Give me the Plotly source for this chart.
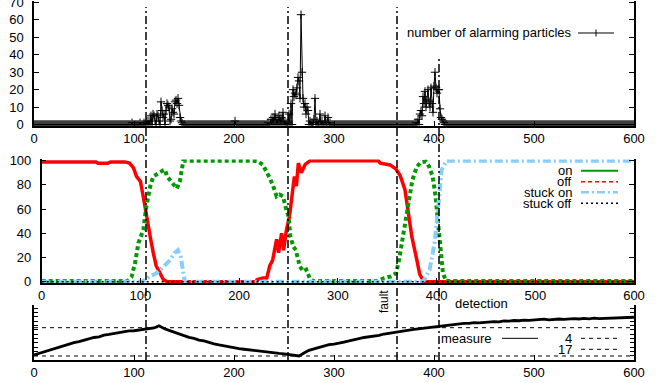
import plotly.graph_objects as go

# ---------------- data ----------------
steps = list(range(0, 601))

# top panel: number of alarming particles (steps with non-zero counts; zero elsewhere)
alarm_steps = [98, 106, 110, 113, 115, 117, 119, 120, 121, 123, 124, 125, 127, 128, 129, 130,
               132, 133, 134, 135, 136, 137, 138, 139, 140, 141, 142, 143, 144, 145, 146, 147, 148,
               201,
               234, 237, 239, 241, 243, 245, 247, 249, 251, 253, 255, 257, 259, 260, 261, 262, 263,
               264, 265, 266, 267, 268, 269, 270, 271, 272, 273, 274, 276, 278, 280, 281, 283, 285,
               286, 288, 291, 293, 294, 296,
               382, 384, 386, 387, 388, 389, 390, 391, 392, 393, 394, 395, 396, 397, 398, 399, 400,
               401, 402, 403, 404, 405, 406, 407, 408, 409, 410]
alarm_counts = [1, 1, 1, 2, 2, 5, 6, 5, 2, 6, 5, 2, 13, 8, 4, 6,
                8, 12, 11, 10, 2, 3, 9, 7, 6, 13, 14, 12, 15, 11, 4, 2, 1,
                2,
                1, 3, 4, 6, 3, 5, 4, 7, 2, 1, 6, 12, 20, 16, 18, 17, 21,
                27, 25, 15, 63, 30, 15, 10, 12, 6, 10, 8, 2, 1, 3, 15, 2, 1,
                6, 2, 5, 1, 4, 1,
                1, 3, 6, 8, 5, 16, 12, 19, 10, 14, 20, 13, 10, 21, 12, 7, 22,
                30, 21, 18, 20, 20, 9, 4, 3, 2, 1]

# middle panel: mode probabilities (%)
off_x = [0, 55, 57, 67, 70, 84, 89, 93, 96, 100, 103, 106, 110, 113, 116, 120, 123, 127,
         217, 218, 224, 228, 231, 234, 238, 240, 243, 245, 248, 251, 253, 256, 258, 260, 263,
         267, 272, 341, 343, 353, 359, 363, 368, 371, 375, 380, 383, 386, 388, 600]
off_y = [99, 99, 98, 98, 99, 99, 98, 94, 87, 83, 70, 54, 37, 24, 13, 7, 2, 0,
         0, 1.6, 3, 3, 13, 18, 35, 24, 40, 26, 43, 54, 68, 87, 79, 98, 90,
         97, 100, 100, 98, 96.5, 93, 88, 76, 57, 37, 18, 6, 1.6, 0, 0]

on_x = [0, 87, 91, 94.5, 98, 103, 106, 110, 113, 118, 123, 125, 127, 132, 137, 140, 143.5,
        214, 219, 224, 228, 231, 234.5, 238, 241, 244.5, 247, 250, 252, 255, 257.5, 260, 261.5,
        265, 268, 271.5, 275, 340, 347, 354, 359, 362, 365.5, 369, 372, 375.5, 380, 384, 389,
        392.5, 396, 399, 401.5, 404, 406.5, 409.5, 600]
on_y = [0.5, 0.5, 4, 15, 32, 43, 62, 79, 87, 90, 92, 92.5, 87, 82, 77, 83, 100,
        100, 99.4, 96.7, 91, 85.7, 79, 70.5, 72, 70.5, 62, 54, 37, 29, 26, 15, 12.6,
        8.5, 10, 3, 0.5, 0.5, 3, 4.4, 7, 18, 35, 51, 70.5, 84, 95, 98.6, 99.4,
        95, 87, 70.5, 48.5, 23.7, 7, 0.5, 0.5]

stuck_on_x = [0, 102, 109, 116, 123, 130, 135, 138, 141, 143, 145, 385, 388, 393, 398,
              401.5, 405, 410, 600]
stuck_on_y = [0, 0, 4, 7, 12, 18, 24, 26, 20, 7, 0, 0, 2, 10, 32, 60, 92, 100, 100]

stuck_off_x = [0, 600]
stuck_off_y = [0, 0]

# bottom panel: measure (every 5 steps) and the two reference levels
measure_x = list(range(0, 601, 5))
measure_y = [4.5, 5.2, 6.0, 6.7, 7.6, 8.1, 8.9, 9.5, 10.1, 10.6, 11.3, 11.7, 12.5, 12.8, 13.6,
             13.9, 14.3, 14.8, 15.0, 15.5, 15.6, 16.0, 16.1, 16.7, 16.9, 17.9, 16.6, 15.8, 15.0,
             14.0, 13.5, 12.6, 12.1, 11.3, 10.9, 10.1, 9.6, 9.1, 8.6, 8.2, 7.9, 7.4, 7.1, 6.8,
             6.6, 6.1, 6.0, 5.6, 5.5, 5.2, 5.0, 4.6, 4.4, 4.0, 5.4, 6.6, 7.3, 8.0, 8.5, 9.2,
             9.5, 10.1, 10.4, 10.9, 11.6, 12.0, 12.5, 12.8, 13.3, 13.5, 14.1, 14.5, 15.0, 15.2,
             15.6, 15.9, 16.2, 16.5, 16.9, 17.1, 17.5, 17.7, 18.1, 18.2, 18.7, 18.8, 19.0, 19.0,
             19.3, 19.2, 19.5, 19.6, 19.8, 19.7, 20.1, 20.0, 20.3, 20.2, 20.5, 20.4, 20.6, 20.7,
             20.9, 20.6, 20.9, 21.0, 20.8, 21.0, 21.2, 21.0, 21.3, 21.1, 21.4, 21.2, 21.3, 21.4,
             21.2, 21.5, 21.4, 21.7, 21.8]
level_values = [4, 17]
level_names = ["4", "17"]

# event markers (vertical dash-dot lines): step and top of line (paper fraction)
event_steps = [112, 254, 363, 405]
event_tops = [0.983, 0.983, 0.983, 0.844]

x_ticks = [0, 100, 200, 300, 400, 500, 600]

# ---------------- figure ----------------
FONT = "Liberation Sans, Arial, Helvetica, sans-serif"
RED = "#ff0000"
GREEN = "#009a00"
LBLUE = "#87cefa"

alarm = [0] * len(steps)
for s, c in zip(alarm_steps, alarm_counts):
    alarm[s] = c

fig = go.Figure()

fig.add_trace(go.Scatter(x=steps, y=alarm, mode="lines+markers", xaxis="x", yaxis="y",
                         line=dict(color="black", width=1),
                         marker=dict(symbol="cross-thin", size=6, color="black",
                                     line=dict(color="black", width=1)),
                         showlegend=False))

fig.add_trace(go.Scatter(x=off_x, y=off_y, mode="lines", xaxis="x2", yaxis="y2",
                         line=dict(color=RED, width=3.5), showlegend=False))
fig.add_trace(go.Scatter(x=on_x, y=on_y, mode="lines", xaxis="x2", yaxis="y2",
                         line=dict(color=GREEN, width=4, dash="4px,3px"), showlegend=False))
fig.add_trace(go.Scatter(x=stuck_on_x, y=stuck_on_y, mode="lines", xaxis="x2", yaxis="y2",
                         line=dict(color=LBLUE, width=4, dash="8px,3px,2px,3px"), showlegend=False))
fig.add_trace(go.Scatter(x=stuck_off_x, y=stuck_off_y, mode="lines", xaxis="x2", yaxis="y2",
                         line=dict(color="black", width=1.5, dash="2px,3px"), showlegend=False))

for v in level_values:
    fig.add_trace(go.Scatter(x=[0, 600], y=[v, v], mode="lines", xaxis="x3", yaxis="y3",
                             line=dict(color="black", width=1, dash="4px,4px"), showlegend=False))
fig.add_trace(go.Scatter(x=measure_x, y=measure_y, mode="lines", xaxis="x3", yaxis="y3",
                         line=dict(color="black", width=2.8), showlegend=False))

axis_common = dict(showline=True, linecolor="black", linewidth=1.5, ticks="inside",
                   tickcolor="black", tickwidth=1, showgrid=False, zeroline=False,
                   automargin=False, ticklabeloverflow="allow",
                   tickfont=dict(family=FONT, size=13, color="black"))

fig.update_layout(
    width=662, height=383,
    margin=dict(l=34, r=28, t=1, b=23, autoexpand=False),
    paper_bgcolor="white", plot_bgcolor="white",
    font=dict(family=FONT, size=13, color="black"),
    showlegend=False,
    xaxis=dict(domain=[0, 1], anchor="y", range=[0, 600], tickvals=x_ticks, ticklen=5,
               mirror=False, **axis_common),
    yaxis=dict(domain=[0.6518, 1], anchor="x", range=[-0.86, 70.86], dtick=10, ticklen=5,
               mirror="ticks", ticklabelstandoff=6, **axis_common),
    xaxis2=dict(domain=[0.0128, 1], anchor="y2", range=[0, 600], tickvals=x_ticks, ticklen=5,
                mirror=False, **axis_common),
    yaxis2=dict(domain=[0.2145, 0.5585], anchor="x2", range=[-1.07, 101], dtick=20, ticklen=5,
                mirror="ticks", ticklabelstandoff=6, **axis_common),
    xaxis3=dict(domain=[0, 1], anchor="y3", range=[0, 600], tickvals=x_ticks, ticklen=5,
                mirror=False, **axis_common),
    yaxis3=dict(domain=[0, 0.1532], anchor="x3", range=[2.16, 27.43], dtick=2, tick0=0,
                ticklen=4, showticklabels=False, mirror="ticks", **axis_common),
)

# event lines
for s, top in zip(event_steps, event_tops):
    fig.add_shape(type="line", xref="x", yref="paper", x0=s, x1=s, y0=0, y1=top,
                  line=dict(color="black", width=1.5, dash="8px,3px,2px,3px"))

def legend_text(text, x, y):
    fig.add_annotation(text=text, xref="paper", yref="paper", x=x, y=y, xanchor="right",
                       yanchor="middle", showarrow=False,
                       font=dict(family=FONT, size=13, color="black"))

def legend_line(x0, x1, y, color, width, dash="solid"):
    fig.add_shape(type="line", xref="paper", yref="paper", x0=x0, x1=x1, y0=y, y1=y,
                  line=dict(color=color, width=width, dash=dash))

# top legend
legend_text("number of alarming particles", 0.9, 0.9109)
legend_line(0.9067, 0.9667, 0.9109, "black", 1)
fig.add_shape(type="line", xref="paper", yref="paper", x0=0.9367, x1=0.9367, y0=0.9011, y1=0.9206,
              line=dict(color="black", width=1))

# middle legend
mid_rows = [0.5273, 0.4967, 0.4671, 0.4365]
mid_items = [("on", GREEN, 2, "solid"), ("off", RED, 1.5, "4px,3px"),
             ("stuck on", LBLUE, 2.5, "8px,3px,2px,3px"), ("stuck off", "black", 1.5, "2px,3px")]
for yy, (name, col, w, d) in zip(mid_rows, mid_items):
    legend_text(name, 0.9, yy)
    legend_line(0.9117, 0.9733, yy, col, w, d)

# bottom legend
legend_text("measure", 0.7667, 0.0604)
legend_line(0.78, 0.84, 0.0604, "black", 1)
for name, yy in zip(level_names, [0.0604, 0.0298]):
    legend_text(name, 0.9, yy)
    legend_line(0.9117, 0.975, yy, "black", 1, "4px,4px")

# event labels
fig.add_annotation(text="detection", xref="paper", yref="paper", x=0.6983, y=0.156,
                   xanchor="left", yanchor="middle", showarrow=False,
                   font=dict(family=FONT, size=13, color="black"))
fig.add_annotation(text="fault", xref="paper", yref="paper", x=0.5833, y=0.1643,
                   xanchor="center", yanchor="middle", showarrow=False, textangle=-90,
                   font=dict(family=FONT, size=12, color="black"))

fig.write_html("out.html", config={"displayModeBar": False},
               post_script="document.body.style.margin='0px';")
